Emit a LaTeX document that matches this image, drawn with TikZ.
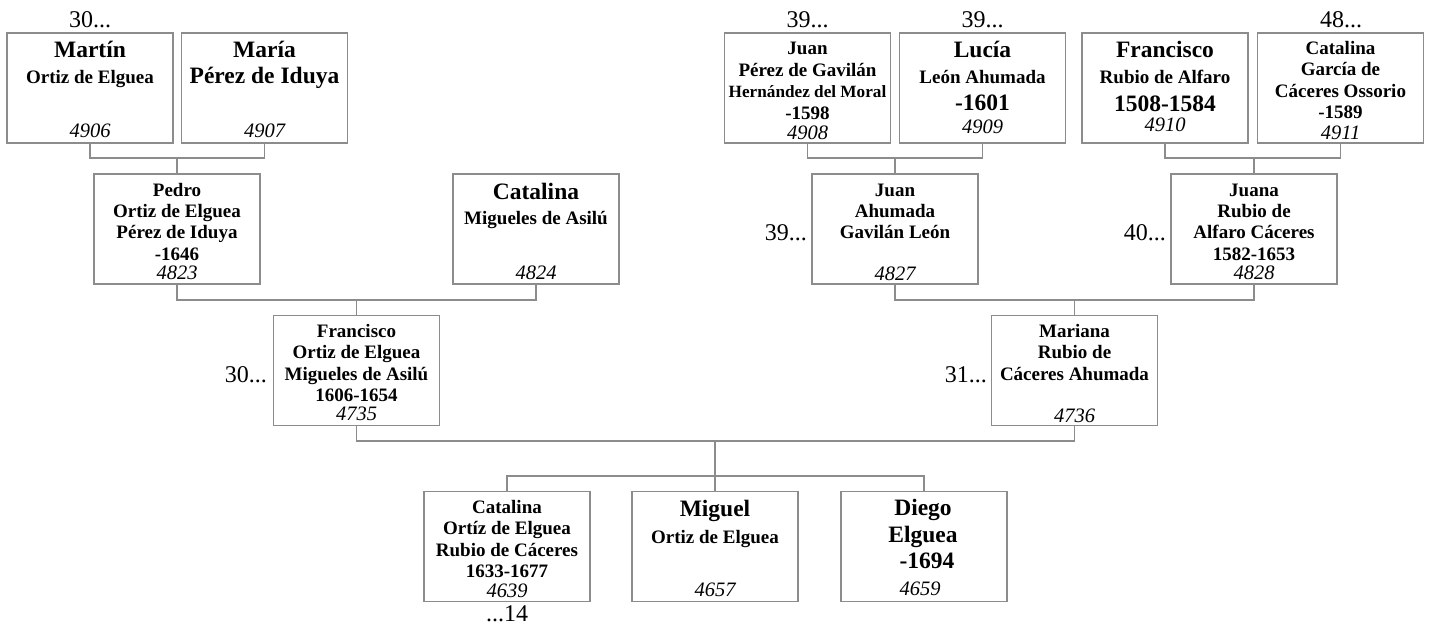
\documentclass[tikz,border=0pt]{standalone}
\usepackage{fontspec}
\setmainfont{Liberation Serif}
\definecolor{linegray}{RGB}{140,140,140}
\newcommand{\pline}[5]{\node[#4] (#1) at (#2,#3) {#5};}
\begin{document}
\begin{tikzpicture}[x=1pt,y=-1pt,
  person/.style={draw=linegray,line width=1.2pt,minimum width=166pt,minimum height=110pt,inner sep=0pt},
  link/.style={draw=linegray,line width=1.2pt},
  bigname/.style={font=\fontsize{23.5}{26}\selectfont\bfseries,anchor=base,inner sep=0pt},
  smallname/.style={font=\fontsize{19}{21}\selectfont\bfseries,anchor=base,inner sep=0pt},
  tinyname/.style={font=\fontsize{17.2}{19}\selectfont\bfseries,anchor=base,inner sep=0pt},
  idnum/.style={font=\fontsize{20.5}{22}\selectfont\itshape,anchor=base,inner sep=0pt},
  genlbl/.style={font=\fontsize{24}{26}\selectfont,anchor=base,inner sep=0pt}]
\useasboundingbox (0,0) rectangle (1430,624);

% boxes
\node[person] (p4906) at (90,88) {};
\node[person] (p4907) at (264.5,88) {};
\node[person] (p4908) at (807.5,88) {};
\node[person] (p4909) at (982.5,88) {};
\node[person] (p4910) at (1165,88) {};
\node[person] (p4911) at (1340.5,88) {};
\node[person] (p4823) at (177,229) {};
\node[person] (p4824) at (536,229) {};
\node[person] (p4827) at (895,229) {};
\node[person] (p4828) at (1254,229) {};
\node[person] (p4735) at (356.5,370.5) {};
\node[person] (p4736) at (1074.5,370.5) {};
\node[person] (p4639) at (507,546.5) {};
\node[person] (p4657) at (715,546.5) {};
\node[person] (p4659) at (924,546.5) {};

% connectors
\coordinate (j1) at (177,158);
\coordinate (j2) at (895,158);
\coordinate (j3) at (1254,158);
\coordinate (j4) at (356.5,300);
\coordinate (j5) at (1074.5,300);
\coordinate (j6) at (715,441);
\coordinate (j7) at (715,476);
\draw[link] (p4906.south) |- (j1) -| (p4907.south);
\draw[link] (j1) -- (p4823.north);
\draw[link] (p4908.south) |- (j2) -| (p4909.south);
\draw[link] (j2) -- (p4827.north);
\draw[link] (p4910.south) |- (j3) -| (p4911.south);
\draw[link] (j3) -- (p4828.north);
\draw[link] (p4823.south) |- (j4) -| (p4824.south);
\draw[link] (j4) -- (p4735.north);
\draw[link] (p4827.south) |- (j5) -| (p4828.south);
\draw[link] (j5) -- (p4736.north);
\draw[link] (p4735.south) |- (j6) -| (p4736.south);
\draw[link] (j6) -- (j7);
\draw[link] (p4639.north) |- (j7) -| (p4659.north);
\draw[link] (j7) -- (p4657.north);

% texts row 1
\pline{t4906a}{90}{57}{bigname}{Martín}
\pline{t4906b}{90}{83}{smallname}{Ortiz de Elguea}
\pline{t4906n}{90}{137}{idnum}{4906}
\pline{t4907a}{264.5}{57}{bigname}{María}
\pline{t4907b}{264.5}{83}{bigname}{Pérez de Iduya}
\pline{t4907n}{264.5}{137}{idnum}{4907}
\pline{t4908a}{807.5}{54}{smallname}{Juan}
\pline{t4908b}{807.5}{76}{smallname}{Pérez de Gavilán}
\pline{t4908c}{807.5}{97}{tinyname}{Hernández del Moral}
\pline{t4908d}{807.5}{119}{smallname}{-1598}
\pline{t4908n}{807.5}{139}{idnum}{4908}
\pline{t4909a}{982.5}{57}{bigname}{Lucía}
\pline{t4909b}{982.5}{83}{smallname}{León Ahumada}
\pline{t4909c}{982.5}{110}{bigname}{-1601}
\pline{t4909n}{982.5}{133}{idnum}{4909}
\pline{t4910a}{1165}{57}{bigname}{Francisco}
\pline{t4910b}{1165}{83}{smallname}{Rubio de Alfaro}
\pline{t4910c}{1165}{111}{bigname}{1508-1584}
\pline{t4910n}{1165}{131}{idnum}{4910}
\pline{t4911a}{1340.5}{54}{smallname}{Catalina}
\pline{t4911b}{1340.5}{75}{smallname}{García de}
\pline{t4911c}{1340.5}{97}{smallname}{Cáceres Ossorio}
\pline{t4911d}{1340.5}{118}{smallname}{-1589}
\pline{t4911n}{1340.5}{139}{idnum}{4911}

% texts row 2
\pline{t4823a}{177}{196}{smallname}{Pedro}
\pline{t4823b}{177}{217}{smallname}{Ortiz de Elguea}
\pline{t4823c}{177}{238}{smallname}{Pérez de Iduya}
\pline{t4823d}{177}{260}{smallname}{-1646}
\pline{t4823n}{177}{279}{idnum}{4823}
\pline{t4824a}{536}{199}{bigname}{Catalina}
\pline{t4824b}{536}{224}{smallname}{Migueles de Asilú}
\pline{t4824n}{536}{279}{idnum}{4824}
\pline{t4827a}{895}{196}{smallname}{Juan}
\pline{t4827b}{895}{217}{smallname}{Ahumada}
\pline{t4827c}{895}{238}{smallname}{Gavilán León}
\pline{t4827n}{895}{280}{idnum}{4827}
\pline{t4828a}{1254}{196}{smallname}{Juana}
\pline{t4828b}{1254}{217}{smallname}{Rubio de}
\pline{t4828c}{1254}{238}{smallname}{Alfaro Cáceres}
\pline{t4828d}{1254}{260}{smallname}{1582-1653}
\pline{t4828n}{1254}{279}{idnum}{4828}

% texts row 3
\pline{t4735a}{356.5}{337}{smallname}{Francisco}
\pline{t4735b}{356.5}{358}{smallname}{Ortiz de Elguea}
\pline{t4735c}{356.5}{380}{smallname}{Migueles de Asilú}
\pline{t4735d}{356.5}{401}{smallname}{1606-1654}
\pline{t4735n}{356.5}{420}{idnum}{4735}
\pline{t4736a}{1074.5}{337}{smallname}{Mariana}
\pline{t4736b}{1074.5}{358}{smallname}{Rubio de}
\pline{t4736c}{1074.5}{380}{smallname}{Cáceres Ahumada}
\pline{t4736n}{1074.5}{422}{idnum}{4736}

% texts row 4
\pline{t4639a}{507}{513}{smallname}{Catalina}
\pline{t4639b}{507}{534}{smallname}{Ortíz de Elguea}
\pline{t4639c}{507}{556}{smallname}{Rubio de Cáceres}
\pline{t4639d}{507}{577}{smallname}{1633-1677}
\pline{t4639n}{507}{597}{idnum}{4639}
\pline{t4657a}{715}{516}{bigname}{Miguel}
\pline{t4657b}{715}{543}{smallname}{Ortiz de Elguea}
\pline{t4657n}{715}{596}{idnum}{4657}
\pline{t4659a}{923}{515}{bigname}{Diego}
\pline{t4659b}{923}{542}{bigname}{Elguea}
\pline{t4659c}{927}{568}{bigname}{-1694}
\pline{t4659n}{920}{595}{idnum}{4659}

% generation labels
\pline{g1}{90}{27}{genlbl}{30...}
\pline{g2}{807.5}{27}{genlbl}{39...}
\pline{g3}{982.5}{27}{genlbl}{39...}
\pline{g4}{1341}{27}{genlbl}{48...}
\pline{g5}{267}{382}{genlbl,anchor=base east}{30...}
\pline{g6}{987}{382}{genlbl,anchor=base east}{31...}
\pline{g7}{807}{240}{genlbl,anchor=base east}{39...}
\pline{g8}{1166}{240}{genlbl,anchor=base east}{40...}
\pline{g9}{507}{621}{genlbl}{...14}
\end{tikzpicture}
\end{document}
